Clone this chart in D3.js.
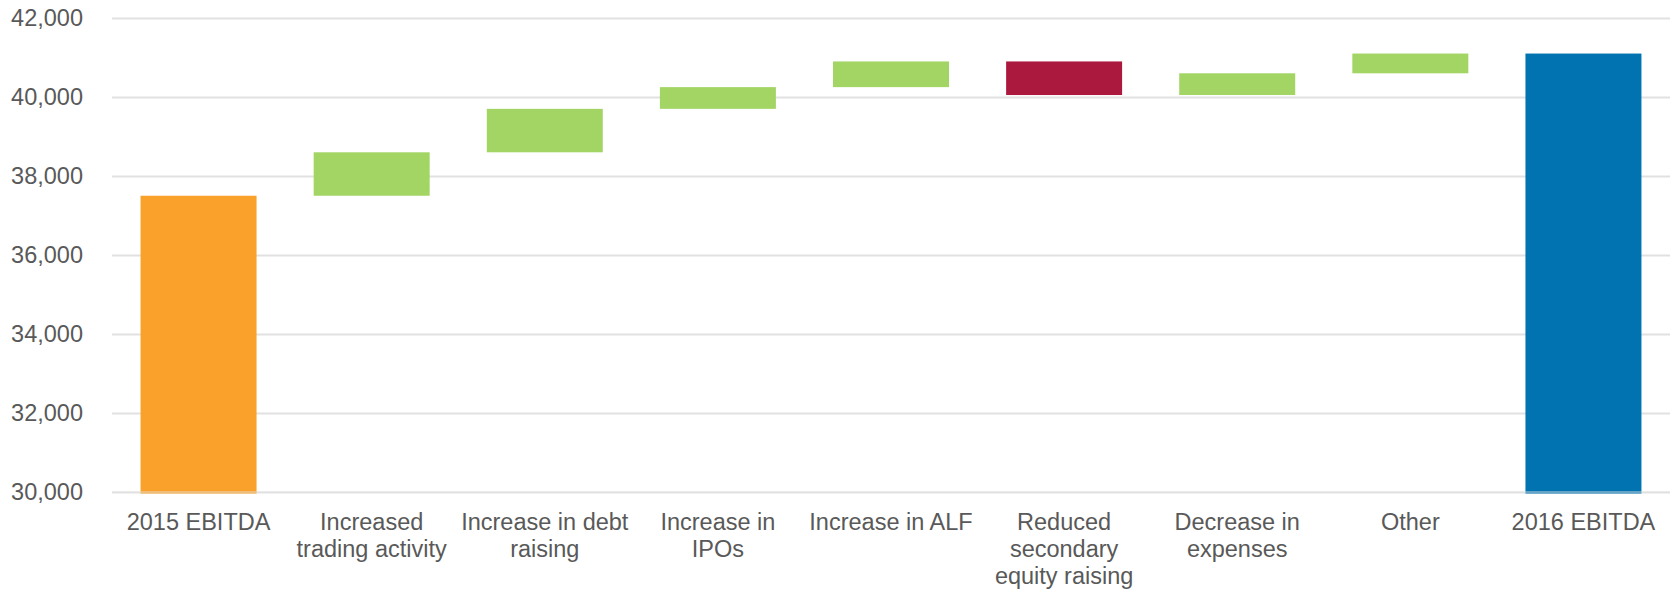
<!DOCTYPE html>
<html lang="en">
<head>
    <meta charset="UTF-8">
    <title>EBITDA bridge 2015 to 2016</title>
    <style>
        html, body {
            margin: 0;
            padding: 0;
            background-color: #FFFFFF;
            font-family: 'Liberation Sans', Arial, sans-serif;
        }
        #chart text {
            fill: #595959;
        }
    </style>
</head>
<body>
    <div id="chart"></div>
    <script src="https://d3js.org/d3.v7.min.js"></script>
    <script>
        // DATA
        const categories = ["2015 EBITDA", "Increased trading activity", "Increase in debt raising",
            "Increase in IPOs", "Increase in ALF", "Reduced secondary equity raising",
            "Decrease in expenses", "Other", "2016 EBITDA"];
        const tickLabels = [
            ["2015 EBITDA"],
            ["Increased", "trading activity"],
            ["Increase in debt", "raising"],
            ["Increase in", "IPOs"],
            ["Increase in ALF"],
            ["Reduced", "secondary", "equity raising"],
            ["Decrease in", "expenses"],
            ["Other"],
            ["2016 EBITDA"]
        ];
        const startValue = 37500;
        const changes = [1100, 1100, 550, 650, -850, 550, 500];
        const yTicks = [30000, 32000, 34000, 36000, 38000, 40000, 42000];

        const colors = {total2015: "#F9A12A", up: "#A2D564", down: "#AB1A3E", total2016: "#0073B0"};

        // BUILD BARS (start / end for each step)
        let bars = [];
        let running = startValue;
        bars.push({cat: categories[0], from: 30000, to: startValue, color: colors.total2015, total: true});
        changes.forEach((c, i) => {
            bars.push({cat: categories[i + 1], from: running, to: running + c,
                color: c >= 0 ? colors.up : colors.down, total: false});
            running += c;
        });
        bars.push({cat: categories[8], from: 30000, to: running, color: colors.total2016, total: true});

        const W = 1674, H = 592;
        const margin = {top: 18, left: 112, right: 4, bottom: 100};
        const width = W - margin.left - margin.right;
        const height = H - margin.top - margin.bottom;

        const svg = d3.select("#chart")
            .append("svg")
            .attr("width", W)
            .attr("height", H);

        const g = svg.append("g")
            .attr("transform", `translate(${margin.left}, ${margin.top})`);

        const x = d3.scaleBand()
            .domain(categories)
            .range([0, width])
            .paddingInner(0.33)
            .paddingOuter(0.165);

        const y = d3.scaleLinear()
            .domain([30000, 42000])
            .range([height, 0]);

        // GRIDLINES + Y AXIS
        const yAxis = g.append("g")
            .call(d3.axisLeft(y).tickValues(yTicks).tickFormat(d3.format(",")).tickSize(-width).tickPadding(29));
        yAxis.select(".domain").remove();
        yAxis.selectAll(".tick line")
            .attr("stroke", "#E1E1E1")
            .attr("stroke-width", 2);
        yAxis.selectAll(".tick text")
            .attr("font-size", "23.5px")
            .attr("font-family", "'Liberation Sans', Arial, sans-serif");

        // BARS
        g.selectAll("rect.bar")
            .data(bars).enter()
            .append("rect")
            .attr("class", "bar")
            .attr("x", d => x(d.cat))
            .attr("width", x.bandwidth())
            .attr("y", d => y(Math.max(d.from, d.to)))
            .attr("height", d => Math.abs(y(d.from) - y(d.to)) + (d.total ? 1.5 : 0))
            .attr("fill", d => d.color);

        // BASELINE over the bars
        g.append("line")
            .attr("x1", 0)
            .attr("x2", width)
            .attr("y1", y(30000))
            .attr("y2", y(30000))
            .attr("stroke", "#E1E1E1")
            .attr("stroke-opacity", 0.6)
            .attr("stroke-width", 1.5);

        // X LABELS
        const xLabels = g.append("g")
            .selectAll("text")
            .data(categories).enter()
            .append("text")
            .attr("x", d => x(d) + x.bandwidth() / 2)
            .attr("y", height + 38)
            .attr("text-anchor", "middle")
            .attr("font-size", "23.5px");
        xLabels.selectAll("tspan")
            .data((d, i) => tickLabels[i]).enter()
            .append("tspan")
            .attr("x", function () { return d3.select(this.parentNode).attr("x"); })
            .attr("dy", (d, i) => i === 0 ? 0 : 27)
            .text(d => d);
    </script>
</body>
</html>
